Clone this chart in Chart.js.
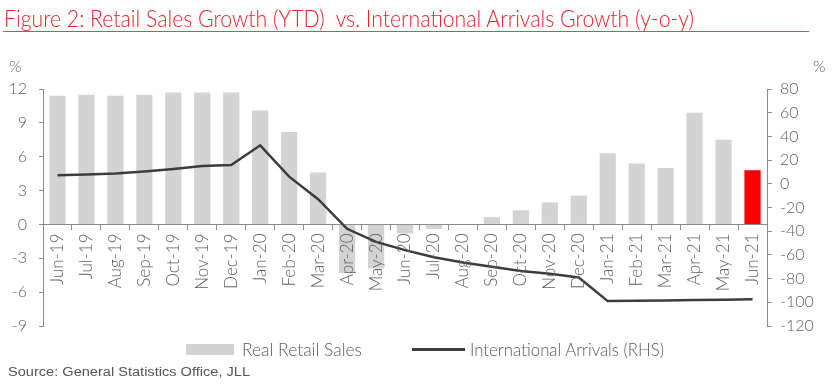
<!DOCTYPE html>
<html>
<head>
<meta charset="utf-8">
<script src="https://cdn.jsdelivr.net/npm/chart.js@4.4.0/dist/chart.umd.min.js"></script>
<style>
  body { margin: 0; width: 833px; height: 386px; position: relative; overflow: hidden; background: #fff; font-family: Lato, sans-serif; }
  canvas { position: absolute; left: 0; top: 0; }
  .txt { position: absolute; white-space: pre; transform-origin: 0 50%; }
  #title { left: 4px; top: 3px; font-size: 23px; line-height: 30px; color: #e2242b; font-weight: 300; }
  #rule { position: absolute; left: 3px; top: 31px; width: 806px; height: 1px; background: #e0464c; }
  .pct { font-size: 16px; color: #606060; font-weight: 300; line-height: 18px; }
  #pctL { left: 9px; top: 57px; }
  #pctR { left: 813px; top: 57px; }
  .leg { font-size: 17px; color: #595959; font-weight: 300; line-height: 20px; top: 340px; }
  #legBox { position: absolute; left: 186px; top: 344px; width: 48px; height: 11px; background: #d3d3d3; }
  #legLine { position: absolute; left: 412px; top: 348px; width: 53px; height: 3px; background: #3c3c3c; }
  #leg1 { left: 242px; }
  #leg2 { left: 470px; }
  #source { left: 8px; top: 364px; font-family: "Liberation Sans", Arial, sans-serif; font-size: 12.5px; color: #555; line-height: 16px; }
</style>
</head>
<body>
<canvas id="chart" width="833" height="386"></canvas>
<div id="title" class="txt" data-w="690">Figure 2: Retail Sales Growth (YTD)  vs. International Arrivals Growth (y-o-y)</div>
<div id="rule"></div>
<div id="pctL" class="txt pct">%</div>
<div id="pctR" class="txt pct">%</div>
<div id="legBox"></div>
<div id="leg1" class="txt leg" data-w="120">Real Retail Sales</div>
<div id="legLine"></div>
<div id="leg2" class="txt leg" data-w="194">International Arrivals (RHS)</div>
<div id="source" class="txt" data-w="242">Source: General Statistics Office, JLL</div>
<script>
const months = ['Jun-19', 'Jul-19', 'Aug-19', 'Sep-19', 'Oct-19', 'Nov-19', 'Dec-19',
  'Jan-20', 'Feb-20', 'Mar-20', 'Apr-20', 'May-20', 'Jun-20', 'Jul-20', 'Aug-20', 'Sep-20',
  'Oct-20', 'Nov-20', 'Dec-20', 'Jan-21', 'Feb-21', 'Mar-21', 'Apr-21', 'May-21', 'Jun-21'];

// real retail sales growth, YTD (%), left axis
const retailSales = [11.4, 11.5, 11.4, 11.5, 11.7, 11.7, 11.7, 10.1, 8.2, 4.6, -4.3, -3.9,
  -0.8, -0.4, 0, 0.65, 1.25, 1.95, 2.55, 6.3, 5.4, 5.0, 9.9, 7.5, 4.8];

// international arrivals growth, y-o-y (%), right axis
const arrivals = [7.2, 7.8, 8.6, 10.3, 12.5, 15, 15.9, 32.5, 6, -13, -38, -49,
  -56, -62, -66.5, -70, -73.5, -76, -79, -99, -98.6, -98.5, -98, -97.8, -97.5];

const leftTicks = { min: -9, max: 12, step: 3 };
const rightTicks = { min: -120, max: 80, step: 20 };

const axisGrey = '#8c8c8c';
const labelGrey = '#606060';
const tickFont = { family: 'Lato', size: 16, weight: 300 };

// last bar highlighted in red
const barColors = retailSales.map((v, i) => i === retailSales.length - 1 ? '#ff0000' : '#d3d3d3');

new Chart(document.getElementById('chart'), {
  type: 'bar',
  data: {
    labels: months,
    datasets: [
      {
        type: 'line',
        label: 'International Arrivals (RHS)',
        data: arrivals,
        yAxisID: 'y1',
        borderColor: '#3c3c3c',
        borderWidth: 2.5,
        pointRadius: 0,
        tension: 0,
        fill: false,
        order: 0
      },
      {
        label: 'Real Retail Sales',
        data: retailSales,
        yAxisID: 'y',
        backgroundColor: barColors,
        barPercentage: 0.56,
        categoryPercentage: 1,
        order: 1
      }
    ]
  },
  options: {
    responsive: false,
    animation: false,
    devicePixelRatio: 1,
    layout: { padding: { top: 89, bottom: 60, left: 0, right: 0 } },
    plugins: { legend: { display: false }, tooltip: { enabled: false } },
    scales: {
      x: {
        position: { y: 0 },
        grid: { display: true, drawOnChartArea: false, drawTicks: true, tickLength: 5, color: axisGrey, offset: true },
        border: { display: true, color: axisGrey, width: 1 },
        ticks: {
          z: 1, // month labels sit on top of the negative bars
          autoSkip: false, minRotation: 90, maxRotation: 90, padding: 4,
          color: labelGrey, font: { family: 'Lato', size: 17, weight: 300 }
        }
      },
      y: {
        position: 'left',
        min: leftTicks.min,
        max: leftTicks.max,
        afterFit: s => { s.width = 43; },
        grid: { display: true, drawOnChartArea: false, drawTicks: true, tickLength: 4, color: axisGrey },
        border: { display: true, color: axisGrey, width: 1 },
        ticks: { stepSize: leftTicks.step, padding: 12, color: labelGrey, font: tickFont }
      },
      y1: {
        position: 'right',
        min: rightTicks.min,
        max: rightTicks.max,
        afterFit: s => { s.width = 66; },
        grid: { display: true, drawOnChartArea: false, drawTicks: true, tickLength: 5, color: axisGrey },
        border: { display: true, color: axisGrey, width: 1 },
        ticks: { stepSize: rightTicks.step, padding: 8, color: labelGrey, font: tickFont }
      }
    }
  }
});

// squeeze the text blocks to the widths used in the original
document.querySelectorAll('[data-w]').forEach(el => {
  const w = el.getBoundingClientRect().width;
  const target = +el.dataset.w;
  el.style.transform = 'scaleX(' + (target / w) + ')';
});
</script>
</body>
</html>
